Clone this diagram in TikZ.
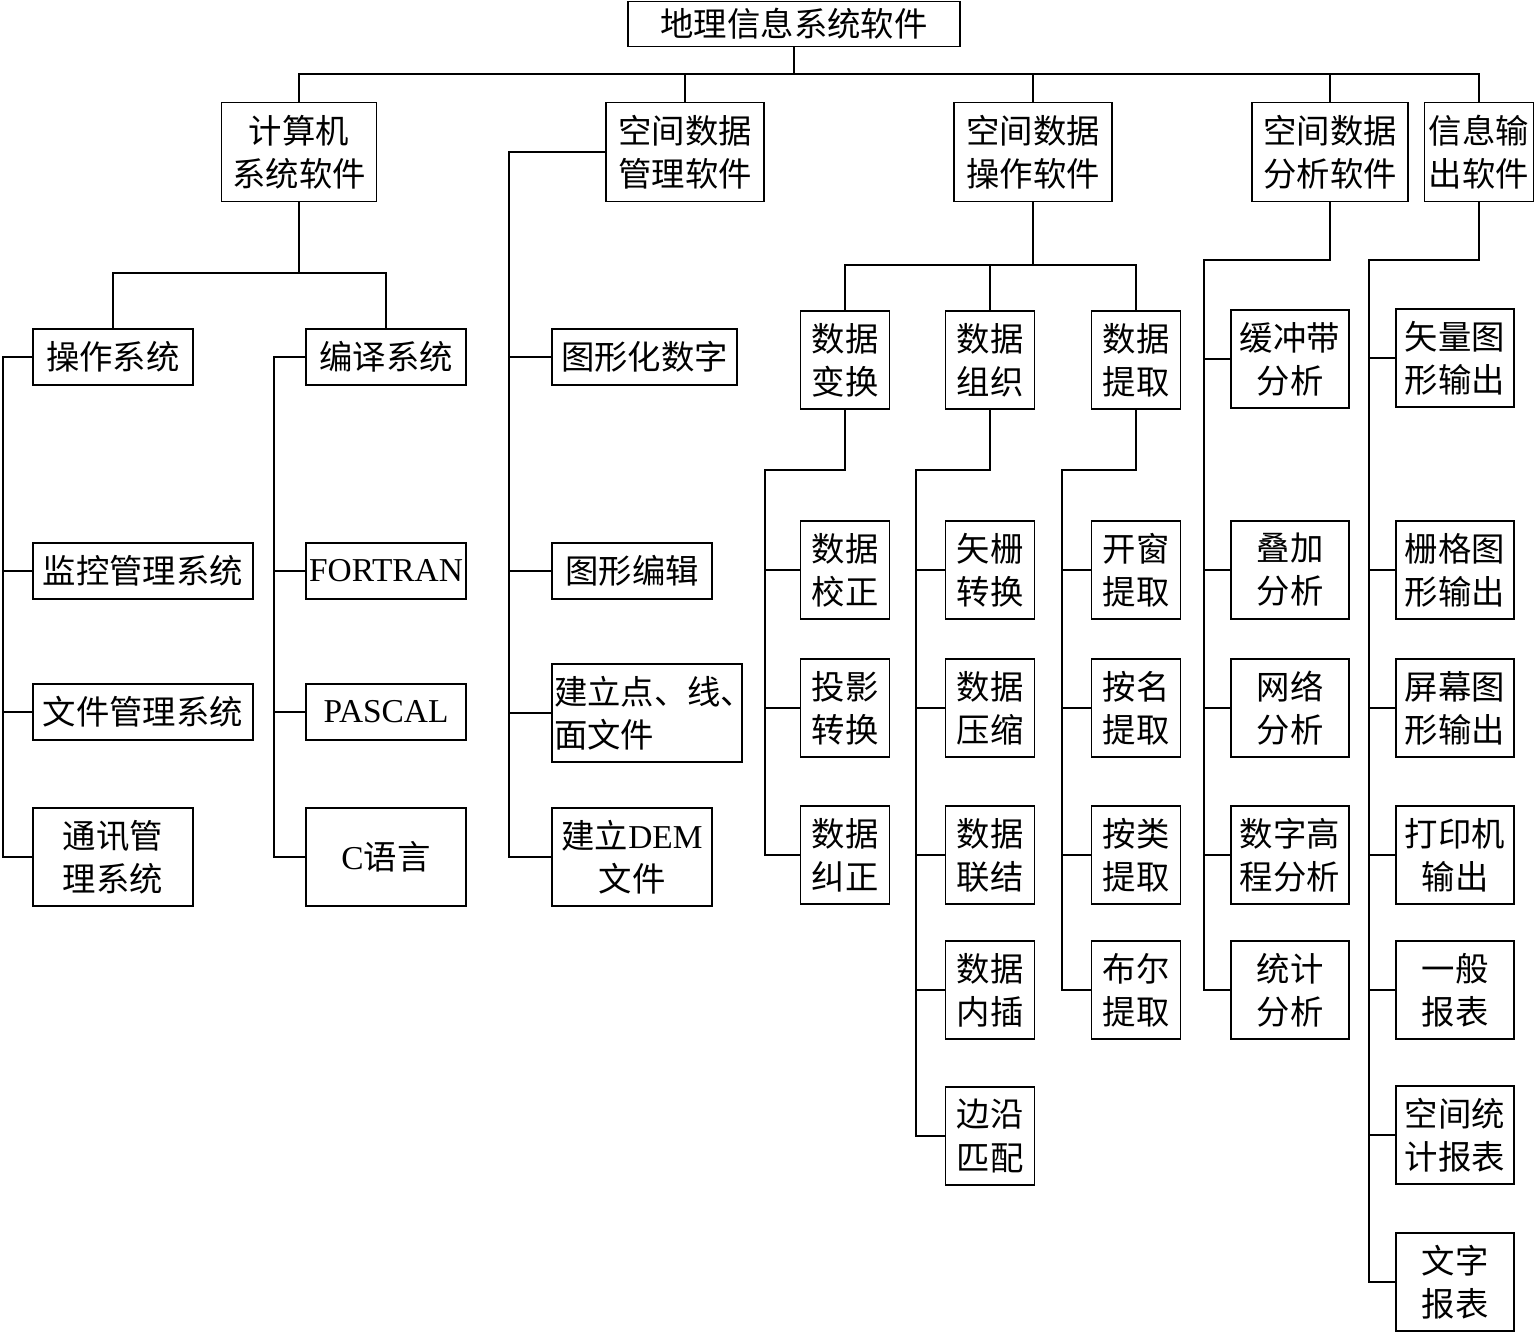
\documentclass[tikz,border=0pt]{standalone}
\usepackage{fontspec}
\setmainfont{Liberation Serif}
\newfontfamily\cjk{Noto Sans CJK SC}
\tikzset{
	box/.style={draw, line width=1pt, inner sep=0pt, align=center, font=\cjk\fontsize{19}{24.5}\selectfont},
	sz/.style 2 args={minimum width=#1*0.02cm, minimum height=#2*0.02cm},
	small/.style={box, sz={89}{98}},
	mid/.style={box, sz={118}{98}},
}
\begin{document}
\begin{tikzpicture}[x=0.02cm, y=-0.02cm, line width=1pt]
	\useasboundingbox (0,0) rectangle (1536,1334);

	% top levels
	\node[box, sz={332}{45}] (root) at (794,24) {地理信息系统软件};
	\node[box, sz={155}{99}] (A) at (299,152) {计算机\\系统软件};
	\node[box, sz={158}{99}] (B) at (685,152) {空间数据\\管理软件};
	\node[box, sz={158}{99}] (C) at (1033,152) {空间数据\\操作软件};
	\node[box, sz={156}{99}] (D) at (1330,152) {空间数据\\分析软件};
	\node[box, sz={109}{99}] (E) at (1479,152) {信息输\\出软件};

	\coordinate (top) at (797,74);
	\draw (root.south) -- (root.south |- top);
	\draw (A.north) |- (top) -| (E.north);
	\draw (B.north) -- (B.north |- top);
	\draw (C.north) -- (C.north |- top);
	\draw (D.north) -- (D.north |- top);

	% computer system software
	\node[box, sz={160}{56}] (A1) at (113,357) {操作系统};
	\node[box, sz={160}{56}] (A2) at (386,357) {编译系统};
	\node[box, sz={220}{56}] (A11) at (143,571) {监控管理系统};
	\node[box, sz={220}{56}] (A12) at (143,712) {文件管理系统};
	\node[box, sz={160}{98}] (A13) at (113,857) {通讯管\\理系统};
	\node[box, sz={160}{56}] (A21) at (386,571) {\rmfamily FORTRAN};
	\node[box, sz={160}{56}] (A22) at (386,712) {\rmfamily PASCAL};
	\node[box, sz={160}{98}] (A23) at (386,857) {{\rmfamily C}语言};

	\coordinate (Aj) at (299,273);
	\draw (A.south) -- (Aj);
	\draw (A1.north) |- (Aj) -| (A2.north);
	\coordinate (At1) at (3,357);
	\coordinate (At2) at (274,357);
	\draw (A1.west) -- (At1) |- (A13.west);
	\draw (A2.west) -- (At2) |- (A23.west);
	\foreach \n in {A11,A12} \draw (\n.west) -- (\n.west -| At1);
	\foreach \n in {A21,A22} \draw (\n.west) -- (\n.west -| At2);

	% spatial data management software
	\node[box, sz={185}{56}] (B1) at (644.5,357) {图形化数字};
	\node[box, sz={160}{56}] (B2) at (632,571) {图形编辑};
	\node[box, minimum height=98*0.02cm, text width=186*0.02cm, inner xsep=2*0.02cm, align=left] (B3) at (647,713) {建立点、线、\\面文件};
	\node[box, sz={160}{98}] (B4) at (632,857) {建立{\rmfamily DEM}\\文件};

	\coordinate (Bt) at (509,152);
	\draw (B.west) -- (Bt) |- (B4.west);
	\foreach \n in {B1,B2,B3} \draw (\n.west) -- (\n.west -| Bt);

	% spatial data operation software
	\node[small] (C1) at (845,360) {数据\\变换};
	\node[small] (C2) at (990,360) {数据\\组织};
	\node[small] (C3) at (1136,360) {数据\\提取};

	\node[small] (C11) at (845,570) {数据\\校正};
	\node[small] (C12) at (845,708) {投影\\转换};
	\node[small] (C13) at (845,855) {数据\\纠正};

	\node[small] (C21) at (990,570) {矢栅\\转换};
	\node[small] (C22) at (990,708) {数据\\压缩};
	\node[small] (C23) at (990,855) {数据\\联结};
	\node[small] (C24) at (990,990) {数据\\内插};
	\node[small] (C25) at (990,1136) {边沿\\匹配};

	\node[small] (C31) at (1136,570) {开窗\\提取};
	\node[small] (C32) at (1136,708) {按名\\提取};
	\node[small] (C33) at (1136,855) {按类\\提取};
	\node[small] (C34) at (1136,990) {布尔\\提取};

	\coordinate (Cj) at (1033,265);
	\draw (C.south) -- (Cj);
	\draw (C1.north) |- (Cj) -| (C3.north);
	\draw (C2.north) -- (C2.north |- Cj);
	\coordinate (Ct1) at (765,470);
	\coordinate (Ct2) at (916,470);
	\coordinate (Ct3) at (1062,470);
	\draw (C1.south) |- (Ct1) |- (C13.west);
	\draw (C2.south) |- (Ct2) |- (C25.west);
	\draw (C3.south) |- (Ct3) |- (C34.west);
	\foreach \n in {C11,C12} \draw (\n.west) -- (\n.west -| Ct1);
	\foreach \n in {C21,C22,C23,C24} \draw (\n.west) -- (\n.west -| Ct2);
	\foreach \n in {C31,C32,C33} \draw (\n.west) -- (\n.west -| Ct3);

	% spatial data analysis software
	\node[mid] (D1) at (1290,359) {缓冲带\\分析};
	\node[mid] (D2) at (1290,570) {叠加\\分析};
	\node[mid] (D3) at (1290,708) {网络\\分析};
	\node[mid] (D4) at (1290,855) {数字高\\程分析};
	\node[mid] (D5) at (1290,990) {统计\\分析};

	\coordinate (Dt) at (1204,260);
	\draw (D.south) |- (Dt) |- (D5.west);
	\foreach \n in {D1,D2,D3,D4} \draw (\n.west) -- (\n.west -| Dt);

	% information output software
	\node[mid] (E1) at (1455,358) {矢量图\\形输出};
	\node[mid] (E2) at (1455,570) {栅格图\\形输出};
	\node[mid] (E3) at (1455,708) {屏幕图\\形输出};
	\node[mid] (E4) at (1455,855) {打印机\\输出};
	\node[mid] (E5) at (1455,990) {一般\\报表};
	\node[mid] (E6) at (1455,1135) {空间统\\计报表};
	\node[mid] (E7) at (1455,1282) {文字\\报表};

	\coordinate (Et) at (1369,260);
	\draw (E.south) |- (Et) |- (E7.west);
	\foreach \n in {E1,E2,E3,E4,E5,E6} \draw (\n.west) -- (\n.west -| Et);
\end{tikzpicture}
\end{document}
